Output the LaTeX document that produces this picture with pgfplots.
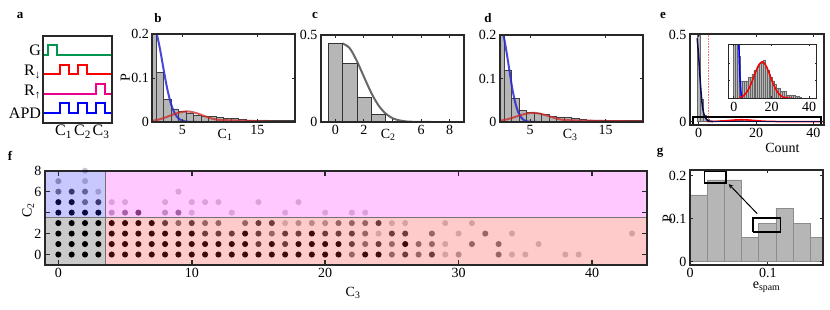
\documentclass[border=0pt]{standalone}
\usepackage{fontspec}
\setmainfont{Liberation Serif}
\usepackage{pgfplots}
\pgfplotsset{compat=1.18}
\definecolor{bargray}{RGB}{182,182,182}
\definecolor{regblue}{RGB}{200,200,255}
\definecolor{regpink}{RGB}{255,200,255}
\definecolor{reggray}{RGB}{202,202,202}
\definecolor{regsalm}{RGB}{255,202,202}
\definecolor{dotsalm}{RGB}{55,0,0}
\definecolor{dotblue}{RGB}{0,0,55}
\definecolor{dotpink}{RGB}{80,0,80}
\definecolor{tgreen}{RGB}{0,150,80}
\definecolor{frame}{RGB}{40,40,40}
\definecolor{cblue}{RGB}{40,40,210}
\definecolor{cred}{RGB}{205,40,40}
\definecolor{navy}{RGB}{10,10,80}
\newcommand{\fs}{\fontsize{14}{16}\selectfont}
\pgfplotsset{
  panel/.style={scale only axis, axis line style={line width=2pt, draw=frame},
    tick style={line width=1pt, draw=frame}, major tick length=3pt, tick align=inside,
    ticklabel style={font=\fs}, label style={font=\fs},
    /pgf/number format/assume math mode=true, scaled ticks=false, axis on top},
  hist/.style={ybar interval, fill=bargray, draw=black!75, line width=0.5pt},
  dots/.style 2 args={only marks, mark=*, mark size=3.05pt, color=#1,
     mark options={fill=#1, draw=#1, fill opacity=#2, draw opacity=0}},
}
\begin{document}
\begin{tikzpicture}
\path[use as bounding box] (0pt,0pt) rectangle (830pt,-309pt);
\tikzset{plab/.style={font=\bfseries\fontsize{13}{13}\selectfont}}
\node[plab] at (20pt,-16pt) {a};
\node[plab] at (158pt,-18pt) {b};
\node[plab] at (315pt,-15pt) {c};
\node[plab] at (488pt,-18pt) {d};
\node[plab] at (663pt,-15pt) {e};
\node[plab] at (10pt,-156pt) {f};
\node[plab] at (660pt,-153pt) {g};

% ---------- a ----------
\begin{axis}[panel, at={(42.7pt,-122.7pt)}, anchor=south west, width=69.6pt, height=87pt,
  xmin=42.7, xmax=112.3, ymin=-122.7, ymax=-35.7, major tick length=0pt,
  xtick={63.5,82.5,101}, xticklabels={C\textsubscript{1},C\textsubscript{2},C\textsubscript{3}},
  ytick={-113.3,-92,-72,-50}, yticklabels={APD,R\textsubscript{↑},R\textsubscript{↓},G},
  ticklabel style={font=\fontsize{16}{16}\selectfont}, xticklabel style={inner sep=2pt}, yticklabel style={inner sep=1.5pt}]
\addplot[tgreen, line width=1.8pt] coordinates {(44.5,-55)(47.7,-55)(47.7,-45)(56.7,-45)(56.7,-55)(112.3,-55)};
\addplot[red, line width=1.8pt] coordinates {(44.5,-74.3)(60,-74.3)(60,-65)(69,-65)(69,-74.3)(77.7,-74.3)(77.7,-65)(86.7,-65)(86.7,-74.3)(112.3,-74.3)};
\addplot[magenta, line width=1.8pt] coordinates {(44.5,-94.3)(95.7,-94.3)(95.7,-84.3)(104.7,-84.3)(104.7,-94.3)(112.3,-94.3)};
\addplot[blue, line width=1.8pt] coordinates {(44.5,-113.3)(60,-113.3)(60,-103.3)(69,-103.3)(69,-113.3)(77.7,-113.3)(77.7,-103.3)(86.7,-103.3)(86.7,-113.3)(95.7,-113.3)(95.7,-103.3)(104.7,-103.3)(104.7,-113.3)(112.3,-113.3)};
\end{axis}

% ---------- b ----------
\begin{axis}[panel, at={(152.3pt,-122pt)}, anchor=south west, width=142.7pt, height=88pt,
  xmin=1, xmax=20, ymin=0, ymax=0.2, xtick={5,15}, ytick={0,0.1,0.2},
  xlabel={C\textsubscript{1}}, xlabel style={at={(axis description cs:0.51,-0.15)}, anchor=center},
  ylabel={P}, ylabel style={at={(axis description cs:-0.19,0.5)}, anchor=center}]
\addplot[hist] coordinates {(0.5,0.5)(1.5,0.112)(2.5,0.051)(3.5,0.030)(4.5,0.025)(5.5,0.019)(6.5,0.015)(7.5,0.013)(8.5,0.012)(9.5,0.0097)(10.5,0.008)(11.5,0.0075)(12.5,0.006)(13.5,0.005)(14.5,0.005)(15.5,0.005)(16.5,0.004)(17.5,0.004)(18.5,0.003)(19.5,0.003)(20.5,0)};
\addplot[cblue, line width=2pt, opacity=0.85, smooth] coordinates {(1,0.22)(1.5,0.206)(2,0.168)(2.5,0.120)(3,0.0746)(3.5,0.0406)(4,0.0193)(4.5,0.008)(5,0.0029)(5.5,0.0009)(6,0.0003)(7,0)};
\addplot[cblue, line width=2pt, opacity=0.85] coordinates {(7,0)(20,0)};
\addplot[cred, line width=2pt, opacity=0.75, smooth] coordinates {(1,0.0027)(2,0.0063)(3,0.0119)(4,0.0184)(5,0.0231)(5.6,0.024)(6,0.0236)(7,0.0196)(8,0.0132)(9,0.0075)(10,0.0045)(11,0.004)(12,0.0035)(13,0.003)(14,0.0025)(15,0.002)(16,0.0012)(17,0.0006)(18,0.0002)(20,0)};
\end{axis}

% ---------- c ----------
\begin{axis}[panel, at={(321pt,-122pt)}, anchor=south west, width=143pt, height=87pt,
  xmin=-1, xmax=9, ymin=0, ymax=0.5, xtick={0,2,4,6,8}, xticklabels={0,2,,6,8}, ytick={0,0.5},
  xlabel={C\textsubscript{2}}, xlabel style={at={(axis description cs:0.47,-0.15)}, anchor=center}]
\addplot[hist, draw=black!80] coordinates {(-0.5,0.452)(0.5,0.337)(1.5,0.140)(2.5,0.042)(3.5,0.004)(4.5,0)};
\addplot[black!70, line width=2pt, opacity=0.85, smooth] coordinates {(0.5,0.452)(1,0.425)(1.5,0.352)(2,0.26)(2.5,0.17)(3,0.098)(3.5,0.05)(4,0.022)(4.5,0.009)(5,0.003)(5.5,0.001)(6,0.0002)(7,0)};
\addplot[black!70, line width=2pt, opacity=0.85] coordinates {(7,0)(9,0)};
\end{axis}

% ---------- d ----------
\begin{axis}[panel, at={(500pt,-122pt)}, anchor=south west, width=143.3pt, height=87pt,
  xmin=1, xmax=20, ymin=0, ymax=0.2, xtick={5,15}, ytick={0,0.1,0.2},
  xlabel={C\textsubscript{3}}, xlabel style={at={(axis description cs:0.49,-0.15)}, anchor=center}]
\addplot[hist] coordinates {(0.5,0.5)(1.5,0.118)(2.5,0.054)(3.5,0.027)(4.5,0.023)(5.5,0.021)(6.5,0.0175)(7.5,0.0137)(8.5,0.012)(9.5,0.0099)(10.5,0.0084)(11.5,0.006)(12.5,0.005)(13.5,0.005)(14.5,0.004)(15.5,0.004)(16.5,0.004)(17.5,0.003)(18.5,0.003)(19.5,0.003)(20.5,0)};
\addplot[cblue, line width=2pt, opacity=0.85, smooth] coordinates {(1,0.215)(1.44,0.2)(1.8,0.168)(2.2,0.124)(2.6,0.080)(3,0.046)(3.4,0.0235)(3.8,0.0105)(4.2,0.0042)(4.6,0.0015)(5,0.0005)(6,0)};
\addplot[cblue, line width=2pt, opacity=0.85] coordinates {(6,0)(20,0)};
\addplot[cred, line width=2pt, opacity=0.75, smooth] coordinates {(1,0.0028)(2,0.0064)(3,0.0116)(4,0.0172)(5,0.0207)(5.4,0.021)(6,0.0202)(7,0.0161)(8,0.0104)(9,0.0058)(10,0.0042)(11,0.0036)(12,0.0032)(13,0.003)(14,0.0026)(15,0.0024)(16,0.002)(18,0.0017)(20,0.0015)};
\end{axis}

% ---------- e ----------
\begin{axis}[panel, at={(690pt,-125pt)}, anchor=south west, width=134pt, height=91pt,
  xmin=-3, xmax=43.7, ymin=-0.02, ymax=0.505, xtick={0,20,40}, ytick={0,0.5},
  xlabel={Count}, xlabel style={at={(axis description cs:0.69,-0.25)}, anchor=center}]
\addplot[hist, draw=black!60, line width=0.3pt] coordinates {(-0.5,0.5)(0.5,0.13)(1.5,0.035)(2.5,0.012)(3.5,0.005)(4.5,0.005)(5.5,0.005)(6.5,0.005)(7.5,0.006)(8.5,0.006)(9.5,0.007)(10.5,0.008)(11.5,0.008)(12.5,0.009)(13.5,0.010)(14.5,0.010)(15.5,0.011)(16.5,0.009)(17.5,0.008)(18.5,0.007)(19.5,0.006)(20.5,0.005)(21.5,0.004)(22.5,0.003)(23.5,0.003)(24.5,0.002)(25.5,0.002)(26.5,0.002)(27.5,0.001)(28.5,0.001)(29.5,0.001)(30.5,0.0008)(31.5,0.0008)(32.5,0.0005)(33.5,0.0005)(34.5,0.0003)(35.5,0)};
\addplot[red!55, densely dotted, line width=0.6pt] coordinates {(3.3,0)(3.3,0.505)};
\addplot[red, line width=1.5pt, smooth] coordinates {(3,0.0002)(5,0.0007)(7,0.0019)(9,0.004)(11,0.0068)(13,0.0094)(15,0.0105)(17,0.0094)(19,0.0068)(21,0.004)(23,0.0019)(25,0.0007)(27,0.0002)(29,0.00005)(31,0)(43.7,0)};
\addplot[navy, line width=1.5pt, smooth] coordinates {(-0.5,0.48)(0,0.38)(0.5,0.25)(1,0.14)(1.5,0.07)(2,0.035)(2.5,0.018)(3,0.009)(3.5,0.003)(4,0.0008)(5,0)};
\addplot[navy, line width=1.5pt] coordinates {(5,0)(43.7,0)};
\addplot[black, line width=2pt] coordinates {(-1.8,-0.019)(42.8,-0.019)(42.8,0.028)(-1.8,0.028)(-1.8,-0.019)};
\end{axis}
% inset
\begin{axis}[panel, at={(728.3pt,-98.3pt)}, anchor=south west, width=88.4pt, height=54pt,
  axis line style={line width=1.5pt, draw=frame}, axis background/.style={fill=white},
  xmin=-3, xmax=44, ymin=0, ymax=0.0155, xtick={0,20,40}, ytick={0.005,0.01}, yticklabels={}, major tick length=2pt]
\addplot[hist, draw=black!60, line width=0.3pt] coordinates {(-0.5,0.5)(0.5,0.13)(1.5,0.035)(2.5,0.012)(3.5,0.005)(4.5,0.005)(5.5,0.005)(6.5,0.005)(7.5,0.006)(8.5,0.006)(9.5,0.007)(10.5,0.008)(11.5,0.008)(12.5,0.009)(13.5,0.010)(14.5,0.010)(15.5,0.011)(16.5,0.009)(17.5,0.008)(18.5,0.007)(19.5,0.006)(20.5,0.005)(21.5,0.004)(22.5,0.003)(23.5,0.003)(24.5,0.002)(25.5,0.002)(26.5,0.002)(27.5,0.001)(28.5,0.001)(29.5,0.001)(30.5,0.0008)(31.5,0.0008)(32.5,0.0005)(33.5,0.0005)(34.5,0.0003)(35.5,0)};
\addplot[blue, line width=1.5pt, smooth] coordinates {(2,0.035)(2.5,0.018)(3,0.009)(3.5,0.003)(4,0.0008)(4.5,0)};
\addplot[red, line width=1.5pt, smooth] coordinates {(3,0.0002)(5,0.0007)(7,0.0019)(9,0.004)(11,0.0068)(13,0.0094)(15,0.0105)(17,0.0094)(19,0.0068)(21,0.004)(23,0.0019)(25,0.0007)(27,0.0002)(29,0.00005)(31,0)};
\end{axis}

% ---------- f ----------
\begin{axis}[panel, at={(45pt,-265pt)}, anchor=south west, width=601.7pt, height=94.3pt,
  xmin=-1, xmax=44.1, ymin=-1, ymax=8, xtick={0,10,20,30,40}, ytick={0,2,4,6,8}, yticklabels={0,2,,6,8},
  major tick length=5pt, tick style={line width=1.5pt, draw=frame},
  xlabel={C\textsubscript{3}}, xlabel style={at={(axis description cs:0.512,-0.30)}, anchor=center},
  ylabel={C\textsubscript{2}}, ylabel style={at={(axis description cs:-0.028,0.58)}, anchor=center}]
\addplot[fill=reggray, draw=black!55, line width=0.8pt] coordinates {(-1,-1)(3.5,-1)(3.5,3.5)(-1,3.5)(-1,-1)};
\addplot[fill=regsalm, draw=black!55, line width=0.8pt] coordinates {(3.5,-1)(44.1,-1)(44.1,3.5)(3.5,3.5)(3.5,-1)};
\addplot[fill=regblue, draw=black!55, line width=0.8pt] coordinates {(-1,3.5)(3.5,3.5)(3.5,8)(-1,8)(-1,3.5)};
\addplot[fill=regpink, draw=black!55, line width=0.8pt] coordinates {(3.5,3.5)(44.1,3.5)(44.1,8)(3.5,8)(3.5,3.5)};
% gray region
\addplot[dots={black}{1}] coordinates {(0,0)(1,0)(2,0)(3,0)(0,1)(1,1)(2,1)(3,1)(0,2)(1,2)(2,2)(3,2)(0,3)(1,3)(2,3)(3,3)};
% salmon region
\addplot[dots={dotsalm}{0.95}] coordinates {(4,3)(5,3)(6,3)(7,3)
 (4,2)(5,2)(6,2)(7,2)(8,2)(9,2)(10,2)(14,2)(19,2)
 (4,1)(5,1)(6,1)(7,1)(8,1)(9,1)(10,1)(11,1)(12,1)(13,1)(14,1)(16,1)(18,1)(19,1)(20,1)(21,1)(26,1)
 (4,0)(5,0)(6,0)(7,0)(8,0)(9,0)(10,0)(11,0)(12,0)(13,0)(14,0)(15,0)(16,0)(17,0)(18,0)(19,0)(20,0)(21,0)(23,0)(24,0)};
\addplot[dots={dotsalm}{0.7}] coordinates {(8,3)(10,3)(15,3)(16,3)(24,3)
 (11,2)(12,2)(13,2)(15,2)(17,2)(18,2)(20,2)(21,2)(22,2)(25,2)(26,2)
 (15,1)(17,1)(22,1)(24,1)(26,0)(28,0)};
\addplot[dots={dotsalm}{0.5}] coordinates {(9,3)(11,3)(12,3)(14,3)(21,3)(22,3)(23,3)
 (16,2)(23,2)(28,2)(32,2)(23,1)(25,1)(27,1)(28,1)(31,1)(33,1)(22,0)(25,0)(27,0)(33,0)};
\addplot[dots={dotsalm}{0.33}] coordinates {(18,3)(19,3)(20,3)(30,0)};
\addplot[dots={dotsalm}{0.2}] coordinates {(17,3)(25,3)(26,3)(29,3)(31,3)(24,2)(30,2)(34,2)(43,2)(29,1)(36,1)(29,0)(34,0)(35,0)(38,0)(39,0)};
% blue region
\addplot[dots={dotblue}{0.95}] coordinates {(0,4)(1,4)(2,4)(3,4)(0,5)(1,5)};
\addplot[dots={dotblue}{0.7}] coordinates {(3,5)(1,6)};
\addplot[dots={dotblue}{0.5}] coordinates {(2,5)(0,6)(2,6)};
\addplot[dots={dotblue}{0.33}] coordinates {(0,7)};
\addplot[dots={dotblue}{0.22}] coordinates {(3,6)(2,7)(2,8)};
% pink region
\addplot[dots={dotpink}{0.7}] coordinates {(6,4)};
\addplot[dots={dotpink}{0.5}] coordinates {(5,4)(9,4)};
\addplot[dots={dotpink}{0.33}] coordinates {(4,4)(8,4)};
\addplot[dots={dotpink}{0.2}] coordinates {(9,6)(4,5)(5,5)(8,5)(10,5)(11,5)(12,5)(15,5)(18,5)(10,4)(13,4)(17,4)(20,4)(22,4)(23,4)};
\end{axis}

% ---------- g ----------
\begin{axis}[panel, at={(690pt,-265pt)}, anchor=south west, width=133.3pt, height=95pt,
  xmin=0, xmax=0.171, ymin=-0.008, ymax=0.214, xtick={0,0.1}, ytick={0,0.1,0.2},
  xlabel={e\textsubscript{spam}}, xlabel style={at={(axis description cs:0.575,-0.23)}, anchor=center},
  ylabel={P}, ylabel style={at={(axis description cs:-0.17,0.49)}, anchor=center}]
\addplot[ybar interval, fill=bargray, draw=black!45, line width=0.5pt] coordinates {(0,0.156)(0.022,0.191)(0.044,0.191)(0.066,0.057)(0.088,0.089)(0.110,0.124)(0.132,0.089)(0.154,0.057)(0.176,0)};
\addplot[black, line width=1.6pt] coordinates {(0.0184,0.183)(0.0463,0.183)(0.0463,0.211)(0.0184,0.211)(0.0184,0.183)};
\addplot[black, line width=1.6pt] coordinates {(0.0806,0.069)(0.1159,0.069)(0.1159,0.102)(0.0806,0.102)(0.0806,0.069)};
\addplot[black, line width=1pt, -stealth] coordinates {(0.0862,0.112)(0.0497,0.181)};
\end{axis}
\end{tikzpicture}
\end{document}
